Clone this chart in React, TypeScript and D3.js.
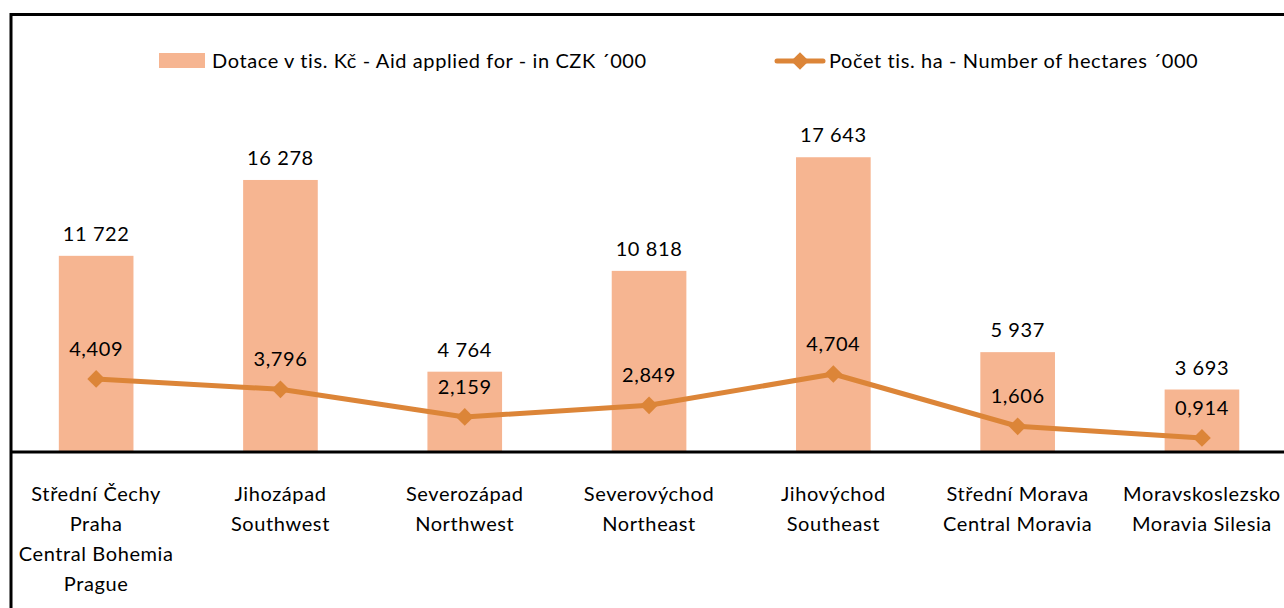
import { useEffect, useRef } from "react";
import * as d3 from "d3";

const regionsCz = ["Střední Čechy", "Jihozápad", "Severozápad", "Severovýchod", "Jihovýchod", "Střední Morava", "Moravskoslezsko"];
const regionsEn = [["Praha", "Central Bohemia", "Prague"], ["Southwest"], ["Northwest"], ["Northeast"], ["Southeast"], ["Central Moravia"], ["Moravia Silesia"]];
const aid = [11722, 16278, 4764, 10818, 17643, 5937, 3693];
const hectares = [4.409, 3.796, 2.159, 2.849, 4.704, 1.606, 0.914];
const aidLabels = ["11 722", "16 278", "4 764", "10 818", "17 643", "5 937", "3 693"];
const haLabels = ["4,409", "3,796", "2,159", "2,849", "4,704", "1,606", "0,914"];

const W = 1284;
const H = 608;
const FONT = "Lato, 'Open Sans', sans-serif";
const BAR = "#f6b591";
const LINE = "#dc8538";

export default function App() {
  const ref = useRef<SVGSVGElement>(null);

  useEffect(() => {
    const svg = d3.select(ref.current);
    svg.selectAll("*").remove();

    const x = d3.scaleBand<number>().domain(d3.range(aid.length)).range([4, 4 + 184.3 * 7]).paddingInner(0.595).paddingOuter(0.2975);
    const y = d3.scaleLinear().domain([0, 20000]).range([451, 118]);
    // secondary axis (hidden), thousands of hectares
    const y2 = d3.scaleLinear().domain([0, 20]).range([453.4, 115.8]);
    const cx = (i: number) => (x(i) as number) + x.bandwidth() / 2;

    const txt = (g: any) => g.attr("font-family", FONT).attr("font-size", 20).attr("letter-spacing", 0.6).attr("fill", "#000");

    // bars
    svg.append("g").selectAll("rect").data(aid).join("rect")
      .attr("x", (_, i) => x(i) as number)
      .attr("width", x.bandwidth())
      .attr("y", d => y(d))
      .attr("height", d => y(0) - y(d))
      .attr("fill", BAR);

    svg.append("g").call(txt).attr("text-anchor", "middle")
      .selectAll("text").data(aid).join("text")
      .attr("x", (_, i) => cx(i))
      .attr("y", d => y(d) - 15)
      .text((_, i) => aidLabels[i]);

    // line
    const line = d3.line<number>().x((_, i) => cx(i)).y(d => y2(d));
    svg.append("path").datum(hectares)
      .attr("d", line)
      .attr("fill", "none")
      .attr("stroke", LINE)
      .attr("stroke-width", 5)
      .attr("stroke-linejoin", "round");

    const diamond = d3.symbol().type(d3.symbolDiamond2).size(200);
    svg.append("g").selectAll("path").data(hectares).join("path")
      .attr("transform", (d, i) => `translate(${cx(i)},${y2(d)})`)
      .attr("d", diamond)
      .attr("fill", LINE);

    svg.append("g").call(txt).attr("text-anchor", "middle")
      .selectAll("text").data(hectares).join("text")
      .attr("x", (_, i) => cx(i))
      .attr("y", d => y2(d) - 23)
      .text((_, i) => haLabels[i]);

    // frame and axis
    svg.append("path").attr("d", `M11,${H}V14.5H${W}`).attr("fill", "none").attr("stroke", "#000").attr("stroke-width", 3);
    svg.append("line").attr("x1", 11).attr("x2", W).attr("y1", 452).attr("y2", 452).attr("stroke", "#000").attr("stroke-width", 3);

    // category labels
    const cat = svg.append("g").call(txt).attr("text-anchor", "middle");
    regionsCz.forEach((name, i) => {
      const t = cat.append("text").attr("x", cx(i)).attr("y", 501);
      [name, ...regionsEn[i]].forEach((ln, j) => {
        t.append("tspan").attr("x", cx(i)).attr("dy", j === 0 ? 0 : 30).text(ln);
      });
    });

    // legend
    const lg = svg.append("g").call(txt);
    lg.append("rect").attr("x", 159).attr("y", 53).attr("width", 46).attr("height", 15).attr("fill", BAR);
    lg.append("text").attr("x", 212).attr("y", 68).text("Dotace v tis. Kč - Aid applied for - in CZK ´000");
    lg.append("line").attr("x1", 777).attr("x2", 823).attr("y1", 61).attr("y2", 61).attr("stroke", LINE).attr("stroke-width", 5).attr("stroke-linecap", "round");
    lg.append("path").attr("transform", "translate(800,61)").attr("d", diamond).attr("fill", LINE);
    lg.append("text").attr("x", 829).attr("y", 68).text("Počet tis. ha - Number of hectares ´000");
  }, []);

  return (
    <svg ref={ref} width={W} height={H} style={{ position: "absolute", left: 0, top: 0, background: "#fff" }} />
  );
}
